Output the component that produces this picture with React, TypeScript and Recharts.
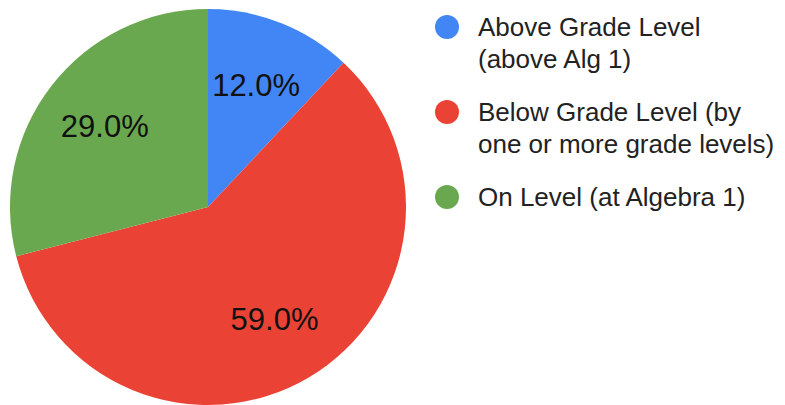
import React from 'react';
import { PieChart, Pie, Cell, Legend } from 'recharts';

const categories = [
  'Above Grade Level (above Alg 1)',
  'Below Grade Level (by one or more grade levels)',
  'On Level (at Algebra 1)',
];
const shares = [12, 59, 29];
const colors = ['#4285F4', '#EA4335', '#6AA84F'];

const data = categories.map((name, i) => ({ name, value: shares[i] }));

const RADIAN = Math.PI / 180;

const renderLabel = ({ cx, cy, midAngle, outerRadius, value }: any) => {
  const r = outerRadius * 0.66;
  const x = cx + r * Math.cos(-midAngle * RADIAN);
  const y = cy + r * Math.sin(-midAngle * RADIAN);
  return (
    <text x={x} y={y} fill="#111" textAnchor="middle" dominantBaseline="central"
      fontSize={31} fontFamily="'Liberation Sans', Arial, sans-serif">
      {value.toFixed(1)}%
    </text>
  );
};

const CustomLegend = ({ payload }: any) => (
  <div style={{ fontFamily: "'Liberation Sans', Arial, sans-serif", fontSize: 26, color: '#222' }}>
    {(payload || []).map((entry: any, i: number) => (
      <div key={i} style={{ display: 'flex', alignItems: 'flex-start', marginBottom: 21 }}>
        <div style={{ width: 24, height: 24, borderRadius: 12, background: entry.color, marginTop: 4, marginLeft: 3, flexShrink: 0 }} />
        <div style={{ marginLeft: 19, lineHeight: '32px', width: 310 }}>{entry.value}</div>
      </div>
    ))}
  </div>
);

export default function App() {
  return (
    <div style={{ position: 'absolute', left: 0, top: 0, width: 785, height: 405, background: '#fff', overflow: 'hidden' }}>
      <PieChart width={785} height={405} margin={{ top: 0, right: 0, bottom: 0, left: 0 }}>
        <Pie
          data={data}
          dataKey="value"
          nameKey="name"
          cx={208}
          cy={207}
          outerRadius={198}
          startAngle={90}
          endAngle={-270}
          stroke="none"
          label={renderLabel}
          labelLine={false}
          isAnimationActive={false}
        >
          {data.map((d, i) => (
            <Cell key={d.name} fill={colors[i]} />
          ))}
        </Pie>
        <Legend
          content={<CustomLegend />}
          wrapperStyle={{ position: 'absolute', left: 432, top: 11, width: 353 }}
        />
      </PieChart>
    </div>
  );
}
